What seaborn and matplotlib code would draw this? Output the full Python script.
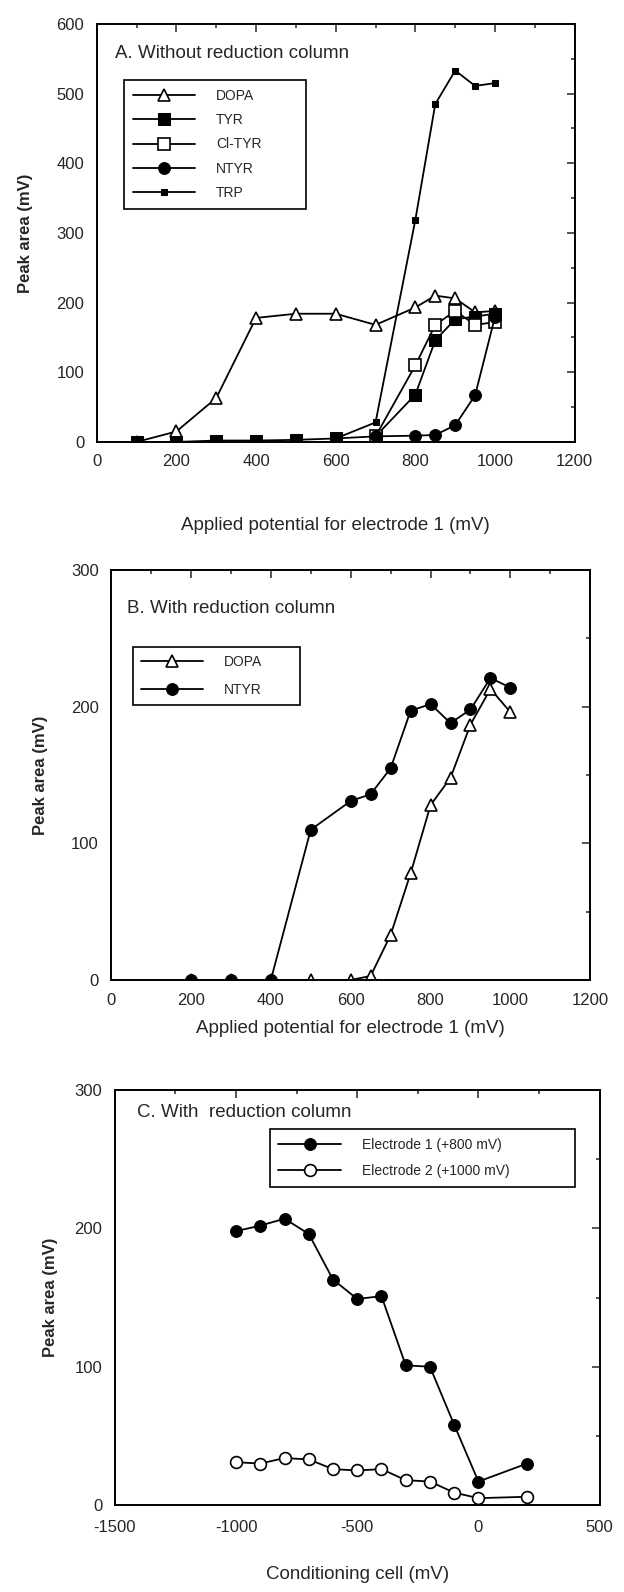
import matplotlib
matplotlib.use("Agg")
import matplotlib.pyplot as plt
import seaborn as sns
from matplotlib.ticker import MultipleLocator

# Panel A - without reduction column
a_dopa_x = [100, 200, 300, 400, 500, 600, 700, 800, 850, 900, 950, 1000]
a_dopa_y = [0, 15, 63, 178, 184, 184, 168, 193, 210, 206, 186, 188]
a_tyr_x = [100, 200, 300, 400, 500, 600, 700, 800, 850, 900, 950, 1000]
a_tyr_y = [0, 0, 2, 2, 3, 5, 8, 68, 146, 176, 180, 184]
a_cltyr_x = [700, 800, 850, 900, 950, 1000]
a_cltyr_y = [8, 110, 168, 188, 168, 172]
a_ntyr_x = [700, 800, 850, 900, 950, 1000]
a_ntyr_y = [8, 9, 10, 24, 67, 180]
a_trp_x = [600, 700, 800, 850, 900, 950, 1000]
a_trp_y = [5, 28, 319, 485, 533, 511, 515]

# Panel B - with reduction column
b_x = [200, 300, 400, 500, 600, 650, 700, 750, 800, 850, 900, 950, 1000]
b_dopa_y = [0, 0, 0, 0, 0, 3, 33, 78, 128, 148, 187, 213, 196]
b_ntyr_y = [0, 0, 0, 110, 131, 136, 155, 197, 202, 188, 198, 221, 214]

# Panel C - conditioning cell
c_x = [-1000, -900, -800, -700, -600, -500, -400, -300, -200, -100, 0, 200]
c_e1_y = [198, 202, 207, 196, 163, 149, 151, 101, 100, 58, 17, 30]
c_e2_y = [31, 30, 34, 33, 26, 25, 26, 18, 17, 9, 5, 6]

sns.set_style("white")
plt.rcParams["font.family"] = ["Liberation Sans", "DejaVu Sans"]
plt.rcParams["axes.linewidth"] = 1.4
plt.rcParams["axes.unicode_minus"] = False

fig = plt.figure(figsize=(6.24, 15.92), dpi=100)
ax_a = fig.add_axes([0.155, 0.7224, 0.766, 0.2626])
ax_b = fig.add_axes([0.178, 0.3844, 0.768, 0.2575])
ax_c = fig.add_axes([0.184, 0.0546, 0.777, 0.2607])

lw = 1.3
open_kw = dict(color="black", markerfacecolor="white", markeredgecolor="black", markeredgewidth=1.2, linewidth=lw)
fill_kw = dict(color="black", markerfacecolor="black", markeredgecolor="black", linewidth=lw)


def style_axis(ax, xmaj, xmin, ymaj, ymin, ypad):
    ax.xaxis.set_major_locator(MultipleLocator(xmaj))
    ax.xaxis.set_minor_locator(MultipleLocator(xmin))
    ax.yaxis.set_major_locator(MultipleLocator(ymaj))
    ax.yaxis.set_minor_locator(MultipleLocator(ymin))
    ax.tick_params(which="both", direction="in", top=True, right=True, width=1.1, labelsize=12, pad=9)
    ax.tick_params(which="major", length=6)
    ax.tick_params(which="minor", length=3)
    for s in ax.spines.values():
        s.set_color("black")
    ax.set_ylabel("Peak area (mV)", fontsize=12, fontweight="bold", labelpad=ypad)


def add_legend(ax, box, spacing):
    leg = ax.legend(loc="upper left", bbox_to_anchor=box, mode="expand", frameon=True, fancybox=False,
                    edgecolor="black", framealpha=1, fontsize=10, handlelength=4.5,
                    handletextpad=1.5, labelspacing=spacing, borderpad=0.6, borderaxespad=0)
    leg.get_frame().set_linewidth(1.2)


# ---- A ----
sns.lineplot(x=a_dopa_x, y=a_dopa_y, marker="^", markersize=9, label="DOPA", ax=ax_a, **open_kw)
sns.lineplot(x=a_tyr_x, y=a_tyr_y, marker="s", markersize=8, label="TYR", ax=ax_a, **fill_kw)
sns.lineplot(x=a_cltyr_x, y=a_cltyr_y, marker="s", markersize=8.5, label="Cl-TYR", ax=ax_a, **open_kw)
sns.lineplot(x=a_ntyr_x, y=a_ntyr_y, marker="o", markersize=8.5, label="NTYR", ax=ax_a, **fill_kw)
sns.lineplot(x=a_trp_x, y=a_trp_y, marker="s", markersize=4, label="TRP", ax=ax_a, **fill_kw)
ax_a.set_xlim(0, 1200)
ax_a.set_ylim(0, 600)
style_axis(ax_a, 200, 100, 100, 50, 17)
ax_a.set_xlabel("Applied potential for electrode 1 (mV)", fontsize=13.5, labelpad=34)
ax_a.text(0.038, 0.93, "A. Without reduction column", transform=ax_a.transAxes,
          fontsize=13.5, va="center", ha="left")
add_legend(ax_a, (0.058, 0.865, 0.38, 0.0), 0.75)

# ---- B ----
sns.lineplot(x=b_x, y=b_dopa_y, marker="^", markersize=9, label="DOPA", ax=ax_b, **open_kw)
sns.lineplot(x=b_x, y=b_ntyr_y, marker="o", markersize=8.5, label="NTYR", ax=ax_b, **fill_kw)
ax_b.set_xlim(0, 1200)
ax_b.set_ylim(0, 300)
style_axis(ax_b, 200, 100, 100, 50, 16)
ax_b.set_xlabel("Applied potential for electrode 1 (mV)", fontsize=13.5, labelpad=9)
ax_b.text(0.033, 0.907, "B. With reduction column", transform=ax_b.transAxes,
          fontsize=13.5, va="center", ha="left")
add_legend(ax_b, (0.045, 0.813, 0.35, 0.0), 1.0)

# ---- C ----
sns.lineplot(x=c_x, y=c_e1_y, marker="o", markersize=8.5, label="Electrode 1 (+800 mV)", ax=ax_c, **fill_kw)
sns.lineplot(x=c_x, y=c_e2_y, marker="o", markersize=8.5, label="Electrode 2 (+1000 mV)", ax=ax_c, **open_kw)
ax_c.set_xlim(-1500, 500)
ax_c.set_ylim(0, 300)
style_axis(ax_c, 500, 250, 100, 50, 12)
ax_c.tick_params(axis="x", which="both", pad=11)
ax_c.set_xlabel("Conditioning cell (mV)", fontsize=13.5, labelpad=22)
ax_c.text(0.045, 0.945, "C. With  reduction column", transform=ax_c.transAxes,
          fontsize=13.5, va="center", ha="left")
add_legend(ax_c, (0.32, 0.905, 0.63, 0.0), 0.9)

fig.savefig("out.png", dpi=100, facecolor="white")
